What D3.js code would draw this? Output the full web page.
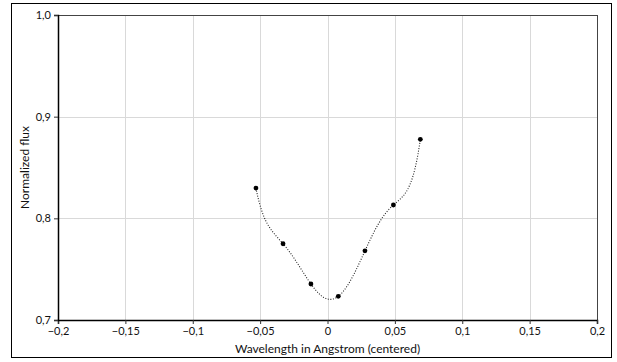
<!DOCTYPE html>
<html><head><meta charset="utf-8">
<script src="https://cdn.jsdelivr.net/npm/d3@7"></script>
<style>body{margin:0;background:#fff}svg{display:block;font-family:Lato,"Open Sans",sans-serif}</style>
</head><body>
<script>
const wavelength = [-0.0531, -0.0330, -0.0123, 0.0080, 0.0278, 0.0489, 0.0689];
const flux = [0.8298, 0.7750, 0.7354, 0.7233, 0.7680, 0.8131, 0.8777];
const xTicks = [-0.2, -0.15, -0.1, -0.05, 0, 0.05, 0.1, 0.15, 0.2];
const yTicks = [0.7, 0.8, 0.9, 1.0];
const xTitle = "Wavelength in Angstrom (centered)";
const yTitle = "Normalized flux";

const W = 617, H = 362;
const m = {l: 58, r: 20, t: 15, b: 42};
const svg = d3.select("body").append("svg").attr("width", W).attr("height", H);
svg.append("rect").attr("x", 11.5).attr("y", 3.5).attr("width", 600).attr("height", 354)
  .attr("fill", "#fff").attr("stroke", "#000").attr("stroke-width", 1);

const x = d3.scaleLinear().domain([-0.2, 0.2]).range([m.l, W - m.r]);
const y = d3.scaleLinear().domain([0.7, 1.0]).range([H - m.b, m.t]);
const fmt = d => d3.format("")(+d.toFixed(2)).replace(".", ",");
const fmtY = d => d.toFixed(1).replace(".", ",");

// grid
svg.append("g").selectAll("line").data(xTicks.slice(1, -1)).join("line")
  .attr("x1", d => Math.round(x(d)) + 0.5).attr("x2", d => Math.round(x(d)) + 0.5)
  .attr("y1", y(1.0)).attr("y2", y(0.7)).attr("stroke", "#d9d9d9");
svg.append("g").selectAll("line").data(yTicks.slice(1, -1)).join("line")
  .attr("y1", d => Math.round(y(d)) + 0.5).attr("y2", d => Math.round(y(d)) + 0.5)
  .attr("x1", x(-0.2)).attr("x2", x(0.2)).attr("stroke", "#d9d9d9");

// frame
svg.append("rect").attr("x", x(-0.2) + 0.5).attr("y", y(1.0) + 0.5)
  .attr("width", x(0.2) - x(-0.2)).attr("height", y(0.7) - y(1.0))
  .attr("fill", "none").attr("stroke", "#444");

// axes
const xAxis = svg.append("g").attr("transform", `translate(0,${y(0.7)})`)
  .call(d3.axisBottom(x).tickValues(xTicks).tickFormat(fmt).tickSize(4).tickPadding(3));
const yAxis = svg.append("g").attr("transform", `translate(${x(-0.2)},0)`)
  .call(d3.axisLeft(y).tickValues(yTicks).tickFormat(fmtY).tickSize(4).tickPadding(3));
[xAxis, yAxis].forEach(a => {
  a.select(".domain").attr("stroke", "#000").attr("stroke-width", 1.5);
  a.selectAll(".tick line").attr("stroke", "#333");
  a.selectAll("text").attr("font-size", 11).attr("fill", "#111").attr("font-family", "Lato, sans-serif");
});

// polynomial trendline (order 6) through the data – Lagrange form
function poly(xv) {
  let s = 0;
  for (let i = 0; i < wavelength.length; i++) {
    let l = 1;
    for (let j = 0; j < wavelength.length; j++)
      if (j !== i) l *= (xv - wavelength[j]) / (wavelength[i] - wavelength[j]);
    s += flux[i] * l;
  }
  return s;
}
const xs = d3.range(0, 301).map(k => wavelength[0] + (wavelength[wavelength.length - 1] - wavelength[0]) * k / 300);
const trend = xs.map(v => [v, poly(v)]);

const line = d3.line().x(d => x(d[0])).y(d => y(d[1]));
svg.append("path").attr("d", line(trend)).attr("fill", "none")
  .attr("stroke", "#222").attr("stroke-width", 1.1).attr("stroke-dasharray", "1,1.6");
const pts = wavelength.map((w, i) => [w, flux[i]]);
svg.append("g").selectAll("circle").data(pts).join("circle")
  .attr("cx", d => x(d[0])).attr("cy", d => y(d[1])).attr("r", 2.4).attr("fill", "#000");

// titles
svg.append("text").attr("x", (x(-0.2) + x(0.2)) / 2).attr("y", 353)
  .attr("text-anchor", "middle").attr("font-size", 12).attr("fill", "#111").text(xTitle);
svg.append("text").attr("transform", `translate(29,${(y(0.7) + y(1.0)) / 2}) rotate(-90)`)
  .attr("text-anchor", "middle").attr("font-size", 12).attr("fill", "#111").text(yTitle);
</script>
</body></html>
